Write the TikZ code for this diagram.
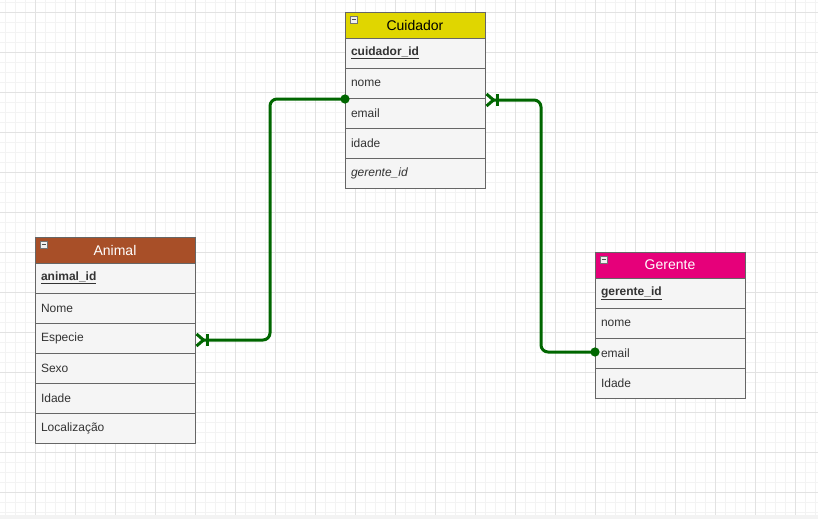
\documentclass[tikz,border=0pt]{standalone}
\usepackage{fontspec}
\setmainfont{Liberation Sans}
\usetikzlibrary{positioning, arrows.meta}

\definecolor{cuidcolor}{HTML}{E0D600}
\definecolor{animcolor}{HTML}{A84F28}
\definecolor{gercolor}{HTML}{E6007A}
\definecolor{rowfill}{HTML}{F5F5F5}
\definecolor{rowborder}{HTML}{666666}
\definecolor{rowtext}{HTML}{333333}
\definecolor{relgreen}{HTML}{006600}
\definecolor{minorline}{HTML}{F3F3F3}
\definecolor{majorline}{HTML}{E2E2E2}

\begin{document}
\begin{tikzpicture}[
    x=1pt, y=-1pt,
    font=\fontsize{12}{14}\selectfont,
    field/.style={rectangle, draw=rowborder, fill=rowfill, line width=0.9pt,
      minimum height=30pt, inner xsep=6pt, inner ysep=0pt, outer sep=0pt,
      text width=#1, align=left, text=rowtext},
    field/.default=128pt,
    header/.style={field=#1, minimum height=26pt, align=center,
      font=\fontsize{14}{16}\selectfont},
    icon/.style={rectangle, draw=black!55, fill=gray!12, line width=0.6pt,
      minimum size=7pt, inner sep=0pt,
      path picture={\draw[black!70, line width=0.9pt]
        ([xshift=1.5pt]path picture bounding box.west) --
        ([xshift=-1.5pt]path picture bounding box.east);}},
    rel/.style={line width=3pt, draw=relgreen, rounded corners=7pt,
      {Circle[length=9pt]}-{Bar[width=12pt, line width=3pt, sep=0pt]
      Straight Barb[reversed, length=7pt, width=12pt, line width=3pt, sep=0pt]},
      shorten <=-4.5pt},
    minorgrid/.style={draw=minorline, line width=0.8pt},
    majorgrid/.style={draw=majorline, line width=0.8pt}
  ]

  \useasboundingbox (0,0) rectangle (818,519);

  % --- GRID ---
  \foreach \gx in {5.5,15.5,...,815.5} \draw[minorgrid] (\gx,0) -- (\gx,515);
  \foreach \gy in {2.3,12.3,...,512.3} \draw[minorgrid] (0,\gy) -- (818,\gy);
  \foreach \gx in {35.5,75.5,...,795.5} \draw[majorgrid] (\gx,0) -- (\gx,515);
  \foreach \gy in {12.3,52.3,...,492.3} \draw[majorgrid] (0,\gy) -- (818,\gy);
  \fill[minorline] (0,515) rectangle (818,519);

  % --- CUIDADOR ---
  \node[header=128pt, fill=cuidcolor, text=black, anchor=north west] (cuid0) at (345,12) {Cuidador};
  \node[field, below=0pt of cuid0] (cuid1) {\underline{\textbf{cuidador\_id}}};
  \node[field, below=0pt of cuid1] (cuid2) {nome};
  \node[field, below=0pt of cuid2] (cuid3) {email};
  \node[field, below=0pt of cuid3] (cuid4) {idade};
  \node[field, below=0pt of cuid4] (cuid5) {\textit{gerente\_id}};
  \node[icon, anchor=north west] (cuidicon) at ([xshift=5pt, yshift=-4pt]cuid0.north west) {};

  % --- ANIMAL ---
  \node[header=148pt, fill=animcolor, text=white, anchor=north west] (anim0) at (35,237) {Animal};
  \node[field=148pt, below=0pt of anim0] (anim1) {\underline{\textbf{animal\_id}}};
  \node[field=148pt, below=0pt of anim1] (anim2) {Nome};
  \node[field=148pt, below=0pt of anim2] (anim3) {Especie};
  \node[field=148pt, below=0pt of anim3] (anim4) {Sexo};
  \node[field=148pt, below=0pt of anim4] (anim5) {Idade};
  \node[field=148pt, below=0pt of anim5] (anim6) {Localização};
  \node[icon, anchor=north west] (animicon) at ([xshift=5pt, yshift=-4pt]anim0.north west) {};

  % --- GERENTE ---
  \node[header=138pt, fill=gercolor, text=white, anchor=north west] (ger0) at (595,252) {Gerente};
  \node[field=138pt, below=0pt of ger0] (ger1) {\underline{\textbf{gerente\_id}}};
  \node[field=138pt, below=0pt of ger1] (ger2) {nome};
  \node[field=138pt, below=0pt of ger2] (ger3) {email};
  \node[field=138pt, below=0pt of ger3] (ger4) {Idade};
  \node[icon, anchor=north west] (gericon) at ([xshift=5pt, yshift=-4pt]ger0.north west) {};

  % --- RELATIONSHIPS ---
  \draw[rel] ([yshift=-1pt]cuid2.south west) -- ++(-75,0) |- ([yshift=-2pt]anim3.east);
  \draw[rel] ([yshift=1pt]ger3.west) -- ++(-54,0) |- ([yshift=-2pt]cuid2.south east);

\end{tikzpicture}
\end{document}
